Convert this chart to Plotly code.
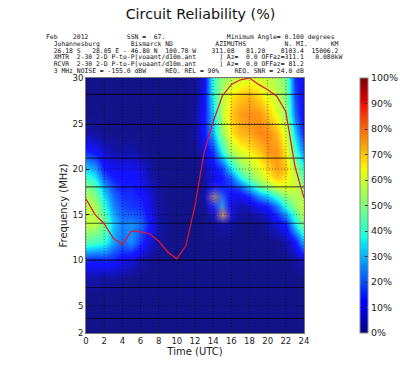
import plotly.graph_objects as go

hours = list(range(25))
freqs = [2, 4, 6, 8, 10, 12, 14, 15, 16, 17, 18, 19, 20, 22, 24, 26, 28, 30]

rel_02 = [0] * 25
rel_04 = [0] * 25
rel_06 = [0] * 25
rel_08 = [3, 3, 2, 2, 1, 0, 0, 0, 0, 0, 0, 0, 0, 0, 0, 0, 0, 0, 0, 0, 0, 0, 0, 0, 0]
rel_10 = [15, 14, 15, 14, 10, 8, 3, 1, 0, 0, 0, 0, 0, 0, 0, 0, 0, 0, 0, 0, 0, 0, 0, 2, 6]
rel_12 = [45, 42, 40, 28, 22, 26, 16, 7, 2, 0, 0, 0, 0, 0, 0, 0, 0, 0, 0, 0, 0, 0, 3, 12, 30]
rel_14 = [58, 58, 48, 32, 24, 26, 22, 12, 3, 0, 0, 0, 0, 0, 1, 3, 2, 0, 0, 0, 3, 8, 14, 35, 52]
rel_15 = [58, 57, 45, 29, 21, 20, 18, 10, 3, 0, 0, 0, 0, 0, 5, 14, 8, 2, 2, 4, 8, 15, 26, 42, 58]
rel_16 = [58, 55, 40, 25, 18, 16, 15, 8, 2, 0, 0, 0, 0, 1, 14, 26, 8, 4, 6, 10, 14, 24, 40, 52, 60]
rel_17 = [55, 50, 34, 22, 16, 15, 13, 7, 2, 0, 0, 0, 0, 3, 16, 20, 10, 10, 16, 26, 32, 42, 52, 56, 56]
rel_18 = [50, 45, 28, 18, 13, 14, 10, 5, 1, 0, 0, 0, 0, 1, 14, 14, 15, 20, 32, 44, 52, 60, 62, 60, 50]
rel_19 = [42, 36, 20, 14, 12, 12, 9, 3, 1, 0, 0, 0, 0, 2, 8, 13, 20, 36, 48, 56, 64, 70, 66, 58, 45]
rel_20 = [33, 28, 13, 10, 10, 10, 8, 2, 0, 0, 0, 0, 0, 3, 10, 16, 34, 48, 56, 62, 68, 75, 70, 55, 38]
rel_22 = [14, 11, 6, 3, 2, 3, 1, 0, 0, 0, 0, 0, 0, 8, 16, 38, 56, 62, 66, 70, 76, 76, 66, 42, 22]
rel_24 = [3, 2, 0, 0, 0, 0, 0, 0, 0, 0, 0, 0, 2, 12, 30, 52, 66, 72, 74, 78, 77, 72, 60, 32, 12]
rel_26 = [0, 0, 0, 0, 0, 0, 0, 0, 0, 0, 0, 0, 2, 12, 32, 57, 70, 75, 77, 76, 70, 62, 52, 22, 8]
rel_28 = [0, 0, 0, 0, 0, 0, 0, 0, 0, 0, 0, 0, 1, 10, 38, 56, 66, 70, 72, 68, 62, 58, 50, 18, 8]
rel_30 = [0, 0, 0, 0, 0, 0, 0, 0, 0, 0, 0, 0, 1, 8, 40, 52, 56, 60, 62, 60, 58, 55, 48, 15, 10]

# small tan artefacts around 14-15 UTC, 15-17 MHz
spot_hours = [13, 14, 15, 16]
spot_freqs = [14, 15, 16, 17, 18]
spot_14 = [0, 0, 0, 0]
spot_15 = [0, 0.05, 1.0, 0]
spot_16 = [0, 0.1, 0.2, 0]
spot_17 = [0, 0.8, 0.1, 0]
spot_18 = [0, 0.1, 0, 0]

muf_freq = [16.7, 15.0, 14.0, 12.4, 11.7, 13.2, 13.1, 12.9, 12.1, 10.9, 10.15, 11.6, 16.0,
            21.8, 25.2, 28.0, 29.3, 29.8, 30.0, 29.3, 28.7, 28.0, 26.3, 20.3, 16.8]
band_freqs = [3.6, 7.0, 10.0, 14.05, 18.05, 21.2, 24.9, 28.2]

x_ticks = list(range(0, 25, 2))
y_ticks = [2, 5, 10, 15, 20, 25, 30]
cb_ticks = list(range(0, 101, 10))
cb_labels = [f"{v}%" for v in cb_ticks]

title_text = "Circuit Reliability (%)"
x_title = "Time (UTC)"
y_title = "Frequency (MHz)"
header_lines = [
    "Feb    2012          SSN =  67.                Minimum Angle= 0.100 degrees",
    "  Johannesburg        Bismarck ND           AZIMUTHS          N. MI.      KM",
    "  26.18 S   28.05 E - 46.80 N  100.78 W    311.08   81.20    8103.4  15006.2",
    "  XMTR  2-30 2-D P-to-P[voaant/d10m.ant      ] Az=  0.0 OFFaz=311.1   0.080kW",
    "  RCVR  2-30 2-D P-to-P[voaant/d10m.ant      ] Az=  0.0 OFFaz= 81.2",
    "  3 MHz NOISE = -155.0 dBW     REQ. REL = 90%    REQ. SNR = 24.0 dB",
]

FONT = "DejaVu Sans"
MONO = "DejaVu Sans Mono"
L, R, T, B = 85.5, 304.0, 78.0, 333.0
W, H = 400, 371

jet = [
    [0.0, "rgb(0,0,128)"], [0.11, "rgb(0,0,255)"], [0.125, "rgb(0,0,255)"],
    [0.34, "rgb(0,219,255)"], [0.35, "rgb(0,229,247)"], [0.375, "rgb(20,255,226)"],
    [0.64, "rgb(238,255,0)"], [0.65, "rgb(247,244,0)"], [0.66, "rgb(255,234,0)"],
    [0.89, "rgb(255,18,0)"], [0.91, "rgb(227,0,0)"], [1.0, "rgb(128,0,0)"],
]

z = [rel_02, rel_04, rel_06, rel_08, rel_10, rel_12, rel_14, rel_15, rel_16, rel_17,
     rel_18, rel_19, rel_20, rel_22, rel_24, rel_26, rel_28, rel_30]

fig = go.Figure()
fig.add_trace(go.Heatmap(
    x=hours, y=freqs, z=z, zmin=0, zmax=100, zsmooth="best", colorscale=jet,
    opacity=0.92, hoverinfo="skip",
    colorbar=dict(
        x=360 / W, xanchor="left", xref="container",
        y=0.5, yanchor="middle", yref="paper",
        len=1.0, lenmode="fraction", thickness=8, thicknessmode="pixels",
        tickvals=cb_ticks, ticktext=cb_labels, ticks="inside", ticklen=3, tickcolor="#333",
        tickfont=dict(family=FONT, size=9.5, color="#222"),
        outlinecolor="#888", outlinewidth=1, xpad=0, ypad=0,
    ),
))
fig.add_trace(go.Heatmap(
    x=spot_hours, y=spot_freqs, z=[spot_14, spot_15, spot_16, spot_17, spot_18],
    zmin=0, zmax=1, zsmooth="best", showscale=False, hoverinfo="skip",
    colorscale=[[0, "rgba(195,150,90,0)"], [1, "rgba(195,150,90,0.95)"]],
))

# dotted grid
gx, gy = [], []
for t in x_ticks:
    gx += [t, t, None]
    gy += [2, 30, None]
for f in y_ticks:
    gx += [0, 24, None]
    gy += [f, f, None]
fig.add_trace(go.Scatter(x=gx, y=gy, mode="lines", hoverinfo="skip", showlegend=False,
                         line=dict(color="rgba(0,0,0,0.45)", width=1, dash="1px 2px")))
# band lines
bx, by = [], []
for f in band_freqs:
    bx += [0, 24, None]
    by += [f, f, None]
fig.add_trace(go.Scatter(x=bx, y=by, mode="lines", hoverinfo="skip", showlegend=False,
                         line=dict(color="rgba(0,0,0,0.65)", width=1.1)))
fig.add_trace(go.Scatter(x=hours, y=muf_freq, mode="lines", hoverinfo="skip", showlegend=False,
                         cliponaxis=True, line=dict(color="#e0162b", width=1.2)))

annotations = []
line_ys = [36.7, 43.7, 50.7, 57.3, 64.3, 70.7]
for txt, py in zip(header_lines, line_ys):
    annotations.append(dict(
        text=txt.replace(" ", "\u00a0"), xref="paper", yref="paper",
        x=(44.5 - L) / (R - L), y=(B - py) / (B - T), xanchor="left", yanchor="middle",
        showarrow=False, align="left", borderpad=0,
        font=dict(family=MONO, size=6.4, color="#111"),
    ))

fig.update_layout(
    width=W, height=H, autosize=False,
    margin=dict(l=L, r=W - R, t=T, b=H - B, pad=0),
    paper_bgcolor="white", plot_bgcolor="white", showlegend=False,
    title=dict(text=title_text, x=200.5 / W, xanchor="center", xref="container",
               y=1 - 14 / H, yanchor="middle", font=dict(family=FONT, size=14.3, color="#111")),
    annotations=annotations,
    xaxis=dict(range=[0, 24], tickvals=x_ticks, ticks="inside", ticklen=3, tickcolor="#222",
               showgrid=False, zeroline=False, showline=True, mirror=True, linecolor="#777", linewidth=1,
               tickfont=dict(family=FONT, size=8.5, color="#222"),
               title=dict(text=x_title, font=dict(family=FONT, size=10, color="#222"), standoff=0)),
    yaxis=dict(range=[2, 30], tickvals=y_ticks, ticks="inside", ticklen=3, tickcolor="#222",
               showgrid=False, zeroline=False, showline=True, mirror=True, linecolor="#777", linewidth=1,
               tickfont=dict(family=FONT, size=8.5, color="#222"),
               title=dict(text=y_title, font=dict(family=FONT, size=10, color="#222"), standoff=2)),
)

fig.write_html("out.html", config={"displayModeBar": False},
               post_script="document.body.style.margin='0';")
